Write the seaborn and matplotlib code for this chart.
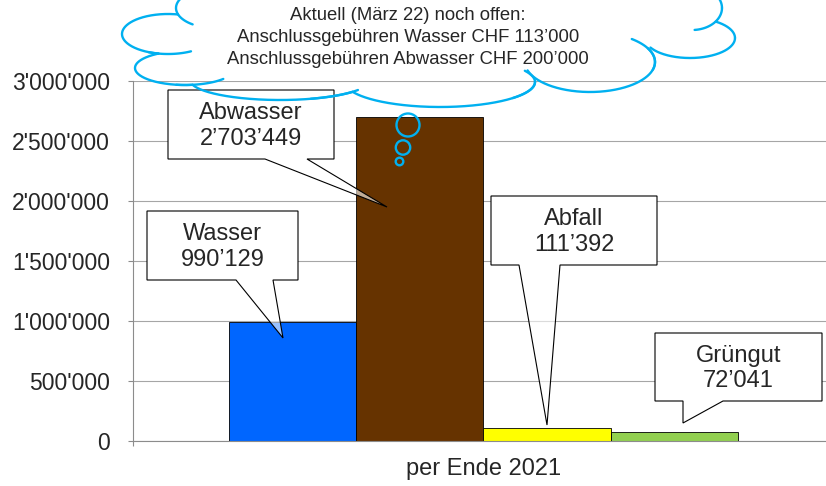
import numpy as np
import pandas as pd
import matplotlib
matplotlib.use("Agg")
import matplotlib.pyplot as plt
import seaborn as sns
from matplotlib.transforms import Affine2D
from matplotlib.patches import Polygon, Circle
from matplotlib.lines import Line2D
from matplotlib.path import Path

# data
period = ["per Ende 2021"]
names = ["Wasser", "Abwasser", "Abfall", "Grüngut"]
values = [990129, 2703449, 111392, 72041]
colors = ["#0066FF", "#663300", "#FFFF00", "#92D050"]
yticks = [0, 500000, 1000000, 1500000, 2000000, 2500000, 3000000]
cloud_lines = ["Aktuell (März 22) noch offen:",
               "Anschlussgebühren Wasser CHF 113’000",
               "Anschlussgebühren Abwasser CHF 200’000"]

sns.set_style("white")
plt.rcParams["font.family"] = ["Liberation Sans", "DejaVu Sans"]

W, H = 826, 486
fig = plt.figure(figsize=(W / 100, H / 100), dpi=100)
ax = fig.add_axes([133 / W, 1 - 441 / H, 701 / W, 360 / H])

df = pd.DataFrame({"period": period * len(names), "name": names, "value": values})
sns.barplot(data=df, x="period", y="value", hue="name", hue_order=names,
            palette=colors, saturation=1, width=0.726, edgecolor="black",
            linewidth=0.6, legend=False, ax=ax, zorder=2)

gray = "#8c8c8c"
ax.set_xlim(-0.5, 0.5)
ax.set_ylim(0, 3000000)
ax.set_yticks(yticks)
ax.set_yticklabels([f"{v:,}".replace(",", "'") for v in yticks])
ax.yaxis.grid(True, color="#a6a6a6", lw=0.8)
ax.set_axisbelow(True)
sns.despine(ax=ax)
for s in ["left", "bottom"]:
    ax.spines[s].set_color(gray)
    ax.spines[s].set_linewidth(0.8)
ax.tick_params(axis="y", direction="out", length=3.6, width=0.8, color=gray,
               labelsize=16.5, pad=13, left=True)
ax.tick_params(axis="x", which="major", length=0, labelsize=17, pad=12)
ax.set_xticks([-0.5], minor=True)
ax.tick_params(axis="x", which="minor", length=3.6, width=0.8, color=gray, bottom=True)
ax.set_xlabel("")
ax.set_ylabel("")

# pixel coordinates (y downwards) -> figure
T = Affine2D().scale(1 / W, -1 / H).translate(0, 1) + fig.transFigure

# callouts: box (x0, y0, x1, y1), pointer base (xa, xb), tip
callouts = {
    "Wasser": ((147, 211, 298, 280), (236, 273), (283, 338)),
    "Abwasser": ((168, 90, 334, 159), (265, 307), (387, 207)),
    "Abfall": ((491, 196, 657, 265), (519, 560), (547, 425)),
    "Grüngut": ((655, 333, 822, 401), (683, 723), (683, 423)),
}
for name, v in zip(names, values):
    (x0, y0, x1, y1), (xa, xb), (tx, ty) = callouts[name]
    fig.add_artist(Polygon([(xa, y1), (tx, ty), (xb, y1)], closed=True, transform=T,
                           fc=(1, 1, 1, 0.6), ec="none", zorder=5))
    fig.add_artist(Polygon([(x0, y0), (x1, y0), (x1, y1), (x0, y1)], closed=True,
                           transform=T, fc="white", ec="none", zorder=5))
    outline = [(x0, y0), (x1, y0), (x1, y1), (xb, y1), (tx, ty), (xa, y1), (x0, y1)]
    fig.add_artist(Polygon(outline, closed=True, transform=T, fc="none",
                           ec="black", lw=0.8, zorder=6))
    label = f"{name}\n{v:,}".replace(",", "’")
    fig.text((x0 + x1) / 2 / W, 1 - ((y0 + y1) / 2 + 1.5) / H, label, ha="center",
             va="center", fontsize=17, linespacing=1.2, zorder=7)

# cloud outline: union of ellipses, only the outer edge is drawn
blue = "#00B0F0"
bumps = [(215, 8, 39, 20), (168, 34, 46, 20), (185, 68, 50, 17), (280, 80, 90, 20),
         (440, 82, 95, 25), (590, 62, 65, 30), (690, 38, 45, 20), (692, 8, 30, 22)]
hooks = [(125, 160), (60, 115), (40, 100), (30, 70), (0, 40), (-50, 15), None, (40, 85)]
core = Path([(215, -60)] + [(cx, cy) for cx, cy, _, _ in bumps] + [(692, -60)])


def inside(px, py, e):
    cx, cy, rx, ry = e
    return ((px - cx) / rx) ** 2 + ((py - cy) / ry) ** 2 < 0.999


for i, (cx, cy, rx, ry) in enumerate(bumps):
    t = np.linspace(0, 2 * np.pi, 1441)
    x = cx + rx * np.cos(t)
    y = cy + ry * np.sin(t)
    mask = core.contains_points(np.column_stack([x, y]))
    for j, other in enumerate(bumps):
        if j != i:
            mask |= inside(x, y, other)
    x[mask] = np.nan
    fig.add_artist(Line2D(x, y, transform=T, color=blue, lw=1.7, zorder=8,
                          solid_capstyle="round"))
    if hooks[i] is not None:
        th = np.radians(np.linspace(hooks[i][0], hooks[i][1], 100))
        fig.add_artist(Line2D(cx + rx * np.cos(th), cy + ry * np.sin(th), transform=T,
                              color=blue, lw=1.7, zorder=8, solid_capstyle="round"))

for cx, cy, r in [(408, 125, 11.5), (403, 147.5, 7.2), (399.5, 161.5, 3.8)]:
    fig.add_artist(Circle((cx, cy), r, transform=T, fc="none", ec=blue, lw=1.7, zorder=8))

for k, line in enumerate(cloud_lines):
    fig.text(408 / W, 1 - (15 + 22.5 * k) / H, line, ha="center", va="center",
             fontsize=13.3, zorder=9)

fig.savefig("out.png", dpi=100)
